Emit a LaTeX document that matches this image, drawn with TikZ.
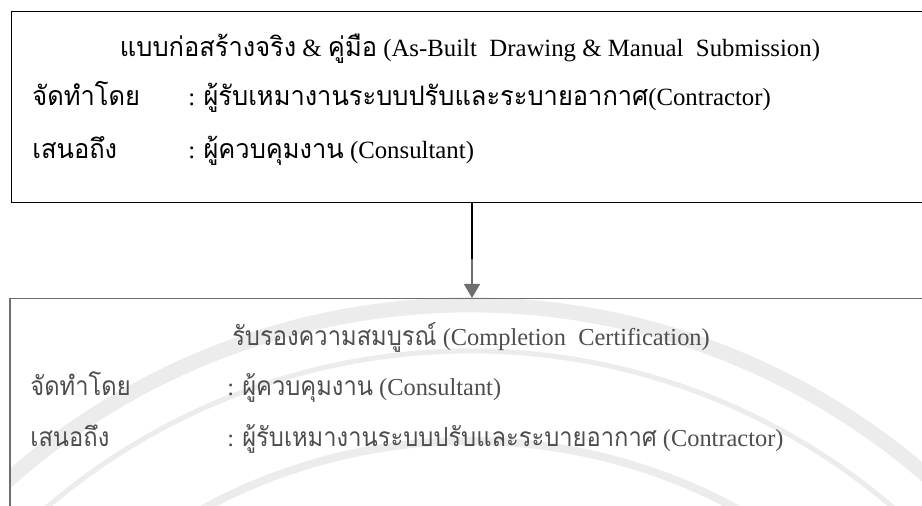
\documentclass[tikz,border=0pt]{standalone}
\usepackage{fontspec}
\setmainfont{Liberation Serif}
\newfontfamily\thaifont[Script=Thai,Scale=1.08,FakeStretch=0.95]{Loma}
\newfontfamily\thaifontb[Script=Thai,Scale=1.08,FakeStretch=0.9]{Loma}
\newcommand\tht[1]{{\thaifont #1}}
\newcommand\thb[1]{{\thaifontb #1}}
\usetikzlibrary{arrows.meta}
\definecolor{boxgrey}{HTML}{6E6E6E}
\definecolor{txtgrey}{HTML}{4E4E4E}
\definecolor{wmgrey}{HTML}{ECECEC}
\tikzset{
  frame/.style={draw, line width=0.75pt, rectangle, inner sep=0pt, anchor=north west},
  lbl/.style={anchor=base west, inner sep=0pt, font=\fontsize{12.4}{15}\selectfont},
  ttl/.style={anchor=base, inner sep=0pt, font=\fontsize{12.4}{15}\selectfont},
  lblb/.style={anchor=base west, inner sep=0pt, text=txtgrey, font=\fontsize{12.2}{15}\selectfont},
  ttlb/.style={anchor=base, inner sep=0pt, text=txtgrey, font=\fontsize{12.2}{15}\selectfont},
}
\begin{document}
\begin{tikzpicture}[x=0.5pt,y=-0.5pt]
\useasboundingbox (0,0) rectangle (922,506);
\fill[white] (0,0) rectangle (922,506);
% watermark
\begin{scope}
\clip (9,298) rectangle (922,506);
\draw[wmgrey, line width=7.5pt] (470,1001) ++(210:696) arc[start angle=210, end angle=330, radius=696];
\draw[wmgrey, line width=2.5pt] (470,1001) ++(210:650) arc[start angle=210, end angle=330, radius=650];
\draw[wmgrey, line width=4pt] (470,1001) ++(220:560) arc[start angle=220, end angle=320, radius=560];
\end{scope}
% top box
\node[frame, minimum width=470pt, minimum height=95.5pt] (topbox) at (10.5,11) {};
% bottom box
\node[frame, draw=boxgrey, minimum width=470pt, minimum height=120pt] (botbox) at (9,298) {};
% arrow
\path (topbox.south west) ++(461.5,0) coordinate (s);
\path (s) ++(0,56) coordinate (m);
\draw[line width=0.75pt] (s) -- (m);
\draw[boxgrey, line width=0.75pt, -{Triangle[width=8pt,length=7pt]}] (m) -- (m |- botbox.north);
% top texts
\node[ttl] (t1) at (470,57) {\tht{แบบก่อสร้างจริง} \& \tht{คู่มือ} (As-Built\ \ Drawing \& Manual\ \ Submission)};
\node[lbl] (t2a) at (32,106) {\tht{จัดทำโดย}};
\node[lbl] (t2b) at (188,106) {: \tht{ผู้รับเหมางานระบบปรับและระบายอากาศ}(Contractor)};
\node[lbl] (t3a) at (32,159) {\tht{เสนอถึง}};
\node[lbl] (t3b) at (188,159) {: \tht{ผู้ควบคุมงาน} (Consultant)};
% bottom texts
\node[ttlb] (b1) at (471,346) {\thb{รับรองความสมบูรณ์} (Completion\ \ Certification)};
\node[lblb] (b2a) at (30,396) {\thb{จัดทำโดย}};
\node[lblb] (b2b) at (227,396) {: \thb{ผู้ควบคุมงาน} (Consultant)};
\node[lblb] (b3a) at (30,447) {\thb{เสนอถึง}};
\node[lblb] (b3b) at (227,447) {: \thb{ผู้รับเหมางานระบบปรับและระบายอากาศ} (Contractor)};
\end{tikzpicture}
\end{document}
